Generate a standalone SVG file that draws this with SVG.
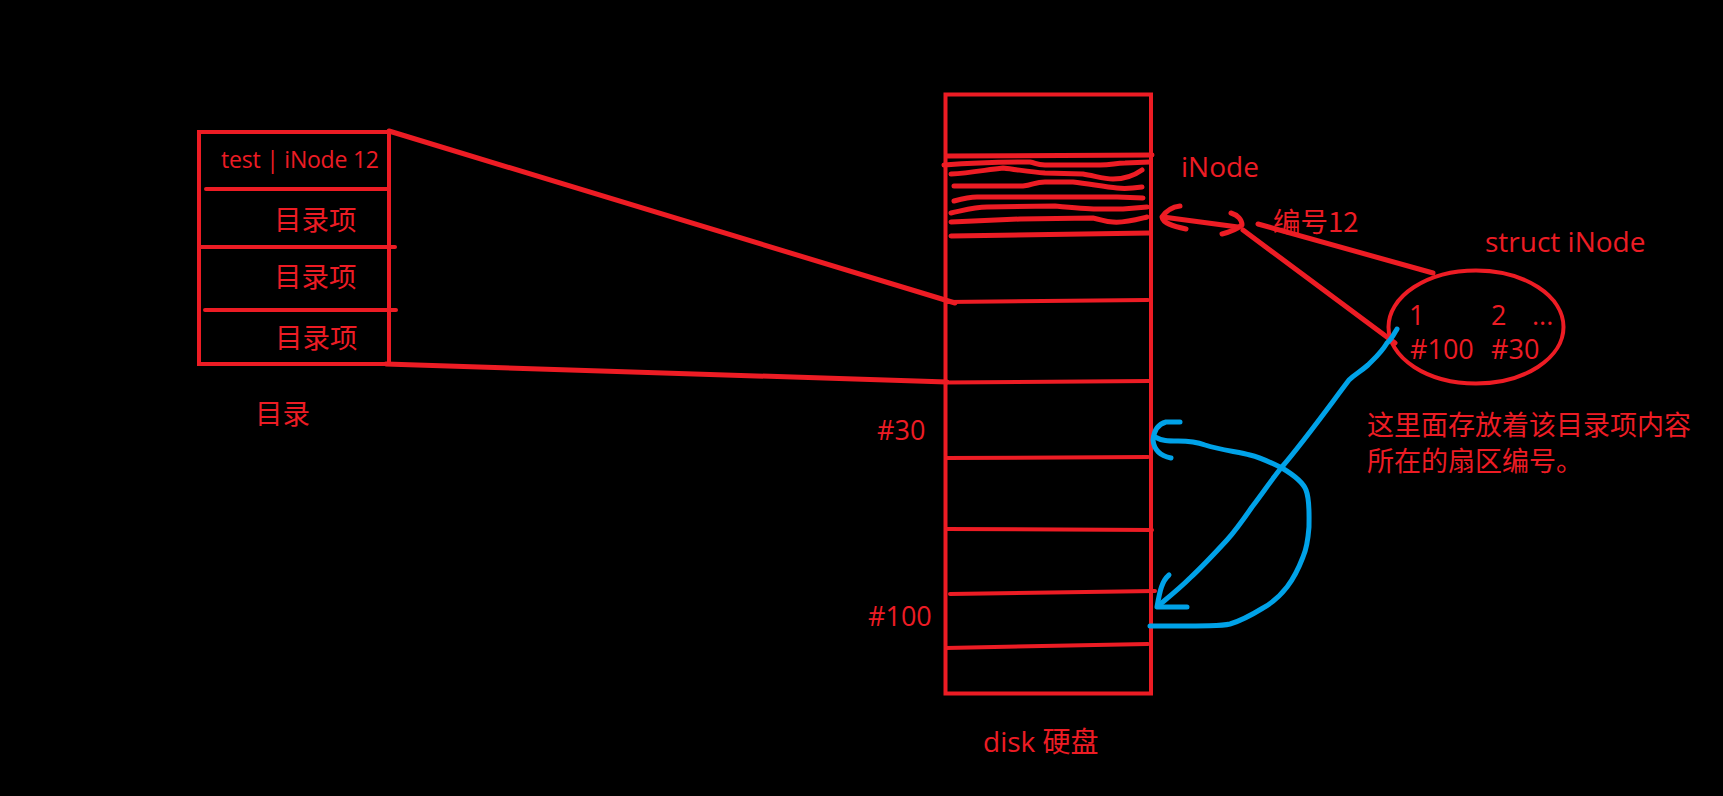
<svg xmlns="http://www.w3.org/2000/svg" width="1723" height="796" viewBox="0 0 1723 796">
<style>
.t{font-family:"Open Sans","Noto Sans CJK SC","Noto Sans",sans-serif;font-size:27px;fill:#ed1c24}
.c{font-family:"Noto Sans CJK SC","Open Sans",sans-serif;fill:#ed1c24}
.b{fill:none;stroke:#ed1c24;stroke-width:4}
.r{fill:none;stroke:#ed1c24;stroke-width:4;stroke-linecap:round;stroke-linejoin:round}
.s{fill:none;stroke:#ed1c24;stroke-width:5;stroke-linecap:round;stroke-linejoin:round}
.w{fill:none;stroke:#ed1c24;stroke-width:5;stroke-linecap:round;stroke-linejoin:round}
.u{fill:none;stroke:#00a2e8;stroke-width:5;stroke-linecap:round;stroke-linejoin:round}
</style>
<rect width="1723" height="796" fill="#000"/>
<g id="directory">
<rect class="b" x="199" y="132" width="190" height="232"/>
<path class="r" d="M206 189H387M201 247H395M205 310H396"/>
<text class="t" x="221" y="168" style="font-size:23px" textLength="158">test | iNode 12</text>
<text class="c" x="274" y="230" font-size="27.500">目录项</text>
<text class="c" x="274" y="287" font-size="27.500">目录项</text>
<text class="c" x="275" y="348" font-size="27.500">目录项</text>
<text class="c" x="255" y="424" font-size="27.500">目录</text>
</g>
<g id="disk">
<rect class="b" x="945.500" y="94.500" width="205.500" height="599"/>
<path class="s" d="M947 156L1152 155"/>
<path class="s" d="M944 165C970 163 1010 162 1030 162C1036 163 1036 165 1045 165H1100C1112 165 1115 163 1125 163L1150 162"/>
<path class="s" d="M951 174C970 173 985 170 1003 168C1020 170 1030 172 1045 173L1083 174C1095 176 1105 179 1113 179C1125 179 1135 175 1142 170"/>
<path class="s" d="M954 186L1023 186C1033 185 1035 182 1045 182L1073 182C1090 184 1105 187 1117 188C1125 189 1135 188 1142 187"/>
<path class="s" d="M954 201C965 198 970 197 977 197H1117L1143 198"/>
<path class="s" d="M951 213C965 210 975 207 987 207L1055 206C1075 208 1085 209 1097 209H1123L1147 207"/>
<path class="s" d="M951 222L1020 219L1093 218C1103 220 1105 222 1113 222C1125 223 1135 220 1147 217"/>
<path class="s" d="M951 236L1150 233"/>
<path class="r" d="M946 302L1148 300M946 382.500L1150 381M946 458L1148 457M946 529L1152 530M950 594L1155 591M946 648L1148 644"/>
<text class="t" x="1181" y="177" style="font-size:28px">iNode</text>
<text class="t" x="877" y="440">#30</text>
<text class="t" x="868" y="626">#100</text>
<text class="t" x="983" y="752" style="font-size:28px">disk 硬盘</text>
</g>
<g id="struct-inode">
<ellipse cx="1476" cy="327" rx="87.500" ry="56.500" class="b"/>
<text class="t" x="1409" y="325">1</text>
<text class="t" x="1491" y="325">2</text>
<text class="t" x="1532" y="325">...</text>
<text class="t" x="1410" y="359">#100</text>
<text class="t" x="1491" y="359">#30</text>
<text class="t" x="1485" y="252" style="font-size:28px">struct iNode</text>
</g>
<g id="labels">
<text class="c" x="1273" y="232" font-size="27.500">编号12</text>
<text class="c" x="1367" y="435" font-size="27">这里面存放着该目录项内容</text>
<text class="c" x="1367" y="471" font-size="27">所在的扇区编号。</text>
</g>
<g id="connectors">
<path class="w" d="M389 131L955 303"/>
<path class="w" d="M386 364L947 382"/>
<path class="w" d="M1163 217L1238 227"/>
<path class="w" d="M1180 206C1172 207 1166 211 1162 217C1163 223 1172 226 1186 229"/>
<path class="w" d="M1231 213C1238 215 1242 220 1242 225C1237 229 1230 232 1222 234"/>
<path class="w" d="M1243 230L1395 343"/>
<path class="w" d="M1258 224L1433 273"/>
<path class="u" d="M1397 329C1393 336 1391 340 1387 343C1381 353 1375 358 1368 365C1360 372 1355 374 1349 380C1330 405 1305 440 1281 468C1270 482 1262 494 1252 507C1243 520 1236 530 1227 540C1215 553 1203 566 1190 578C1180 588 1170 596 1158 606"/>
<path class="u" d="M1169 575C1162 581 1160 590 1157 607L1187 607"/>
<path class="u" d="M1180 422H1166C1158 424 1154 430 1153 440C1154 450 1161 456 1171 458"/>
<path class="u" d="M1155 437C1162 441 1168 441 1178 441C1190 441 1197 442 1205 445C1220 450 1240 452 1250 455C1262 458 1272 463 1282 468C1292 474 1303 482 1306 490C1310 500 1309 515 1309 527C1308 540 1307 548 1303 557C1298 570 1294 578 1287 587C1280 596 1272 603 1263 608C1250 616 1240 621 1230 624C1222 626 1210 626 1150 626"/>
</g>
</svg>
